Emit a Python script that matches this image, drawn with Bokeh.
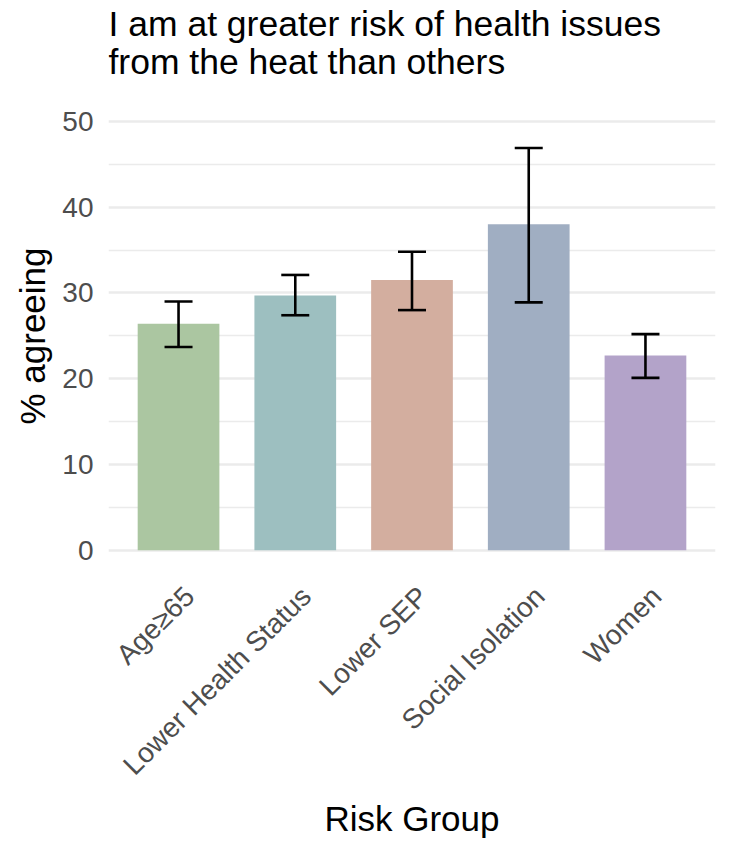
import math
from bokeh.plotting import figure
from bokeh.models import ColumnDataSource, Range1d, Whisker, TeeHead, FixedTicker
from bokeh.embed import file_html
from bokeh.resources import INLINE

groups = ["Age≥65", "Lower Health Status", "Lower SEP", "Social Isolation", "Women"]
pct = [26.4, 29.7, 31.5, 38.0, 22.7]
ci_low = [23.7, 27.4, 28.0, 28.9, 20.1]
ci_high = [29.0, 32.1, 34.8, 46.9, 25.2]
colors = ["#ABC6A1", "#9DBFC0", "#D3AE9F", "#A0AEC2", "#B3A3C9"]
y_ticks = [0, 10, 20, 30, 40, 50]
y_minor = [5, 15, 25, 35, 45]

FONT = "Liberation Sans"
EXPAND = 0.6        # ggplot discrete expansion on each side
LABEL_SHIFT = 0.094  # rotated labels sit slightly right of the bar centres

# discrete positions 1..n, like ggplot
xpos = [i + 1 for i in range(len(groups))]
src = ColumnDataSource(dict(x=xpos, group=groups, pct=pct, lo=ci_low, hi=ci_high, color=colors))

p = figure(x_range=Range1d(1 - EXPAND, len(groups) + EXPAND),
           y_range=Range1d(-0.27, 50.23),
           width=725, height=849, output_backend="svg", toolbar_location=None,
           min_border_left=108, min_border_right=10, min_border_top=119, min_border_bottom=297,
           title="I am at greater risk of health issues\nfrom the heat than others\n ")

p.vbar(x="x", top="pct", width=0.7, source=src, fill_color="color", line_color=None)

w = Whisker(base="x", upper="hi", lower="lo", source=src,
            line_color="black", line_width=2.6,
            upper_head=TeeHead(size=28, line_color="black", line_width=2.6),
            lower_head=TeeHead(size=28, line_color="black", line_width=2.6))
w.level = "overlay"
p.add_layout(w)

tick_pos = [x + LABEL_SHIFT for x in xpos]
xax = p.xaxis[0]
xax.ticker = FixedTicker(ticks=tick_pos)
xax.major_label_overrides = {t: g for t, g in zip(tick_pos, groups)}

p.title.text_font = FONT
p.title.text_font_size = "35.5px"
p.title.text_font_style = "normal"
p.title.text_color = "black"
p.title.align = "left"
p.title.vertical_align = "bottom"
p.title.text_line_height = 0.94
p.title.standoff = 0

p.outline_line_color = None
p.background_fill_color = "white"
p.border_fill_color = "white"

p.xgrid.grid_line_color = None
p.ygrid.ticker = FixedTicker(ticks=y_ticks, minor_ticks=y_minor)
p.ygrid.grid_line_color = "#EBEBEB"
p.ygrid.grid_line_width = 2.5
p.ygrid.minor_grid_line_color = "#EBEBEB"
p.ygrid.minor_grid_line_width = 1.3

p.yaxis.ticker = FixedTicker(ticks=y_ticks)
for ax in (xax, p.yaxis[0]):
    ax.axis_line_color = None
    ax.major_tick_line_color = None
    ax.minor_tick_line_color = None
    ax.major_tick_in = 0
    ax.major_tick_out = 0
    ax.minor_tick_in = 0
    ax.minor_tick_out = 0
    ax.major_label_text_font = FONT
    ax.major_label_text_font_size = "28px"
    ax.major_label_text_color = "#4D4D4D"
    ax.axis_label_text_font = FONT
    ax.axis_label_text_font_size = "35px"
    ax.axis_label_text_font_style = "normal"
    ax.axis_label_text_color = "black"

p.yaxis.axis_label = "% agreeing"
p.yaxis.major_label_standoff = 15
p.yaxis.axis_label_standoff = 7
xax.axis_label = "Risk Group"
xax.major_label_orientation = math.pi / 4
xax.major_label_standoff = 39
xax.axis_label_standoff = 4

open("out.html", "w").write(file_html(p, INLINE))
